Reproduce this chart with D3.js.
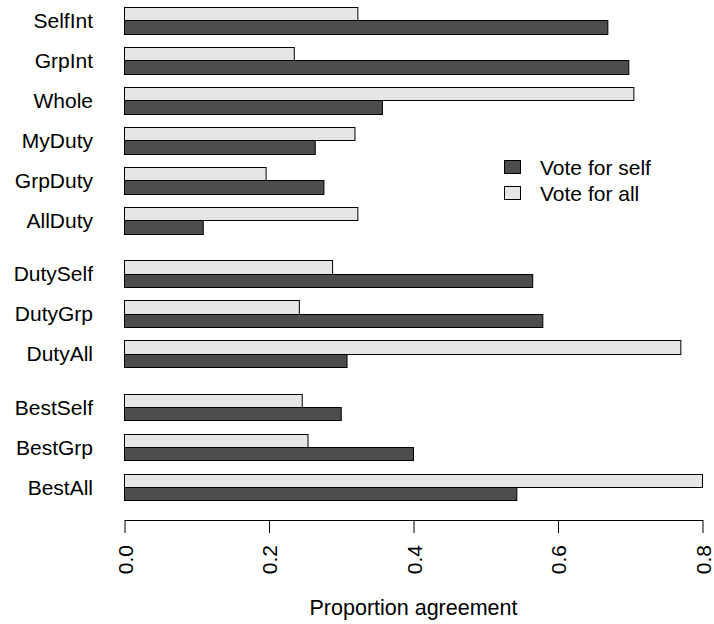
<!DOCTYPE html>
<html>
<head>
<meta charset="utf-8">
<script src="https://cdn.jsdelivr.net/npm/d3@7"></script>
<style>
  html, body { margin: 0; padding: 0; background: #ffffff; }
  svg { display: block; }
  text { font-family: "Liberation Sans", Arial, Helvetica, sans-serif; fill: #000; }
</style>
</head>
<body>
<svg id="chart" width="714" height="624"></svg>
<script>
// Statement labels, listed top to bottom
const categories = ["SelfInt", "GrpInt", "Whole", "MyDuty", "GrpDuty", "AllDuty",
                    "DutySelf", "DutyGrp", "DutyAll",
                    "BestSelf", "BestGrp", "BestAll"];
// Block each statement belongs to (blocks are separated by an extra gap)
const blocks = [0, 0, 0, 0, 0, 0, 1, 1, 1, 2, 2, 2];
// Proportion agreement, "Vote for self" condition
const voteSelf = [0.669, 0.698, 0.357, 0.264, 0.276, 0.109,
                  0.565, 0.579, 0.308,
                  0.300, 0.400, 0.543];
// Proportion agreement, "Vote for all" condition
const voteAll = [0.323, 0.235, 0.705, 0.319, 0.196, 0.323,
                 0.288, 0.242, 0.770,
                 0.246, 0.254, 0.800];
const seriesNames = ["Vote for self", "Vote for all"];
const xTicks = [0.0, 0.2, 0.4, 0.6, 0.8];
const xLabel = "Proportion agreement";

const colSelf = "#4d4d4d";
const colAll = "#e6e6e6";
const fontSize = 21;

const svg = d3.select("#chart");

// x: proportion scale
const x = d3.scaleLinear().domain([0, 0.8]).range([124.5, 702.5]);

// y: one slot per bar; each statement uses two bar slots plus one spacing slot
const slotTop = categories.map((c, i) => 3 * i + blocks[i]);
const nSlots = d3.max(slotTop) + 2;
const y = d3.scaleLinear().domain([0, nSlots]).range([7, 7 + nSlots * (40 / 3)]);

const rows = categories.map((c, i) => ({
  name: c, top: slotTop[i], self: voteSelf[i], all: voteAll[i]
}));

const bars = svg.append("g");
// "Vote for all" bar sits above, "Vote for self" below within each pair
bars.selectAll("rect.all").data(rows).join("rect")
  .attr("class", "all")
  .attr("x", x(0))
  .attr("y", d => Math.round(y(d.top)) + 0.5)
  .attr("width", d => x(d.all) - x(0))
  .attr("height", d => Math.round(y(d.top + 1)) - Math.round(y(d.top)))
  .attr("fill", colAll).attr("stroke", "#000").attr("stroke-width", 1);

bars.selectAll("rect.self").data(rows).join("rect")
  .attr("class", "self")
  .attr("x", x(0))
  .attr("y", d => Math.round(y(d.top + 1)) + 0.5)
  .attr("width", d => x(d.self) - x(0))
  .attr("height", d => Math.round(y(d.top + 2)) - Math.round(y(d.top + 1)))
  .attr("fill", colSelf).attr("stroke", "#000").attr("stroke-width", 1);

// Category labels
svg.append("g").selectAll("text").data(rows).join("text")
  .attr("x", 93)
  .attr("y", d => y(d.top + 1) + fontSize * 0.36)
  .attr("text-anchor", "end")
  .attr("font-size", fontSize)
  .text(d => d.name);

// Bottom axis
const axis = d3.axisBottom(x)
  .tickValues(xTicks)
  .tickFormat(d3.format(".1f"))
  .tickSize(13)
  .tickSizeOuter(0);

const gAxis = svg.append("g")
  .attr("transform", "translate(0,520)")
  .call(axis);
gAxis.select(".domain").attr("stroke", "#000");
gAxis.selectAll(".tick line").attr("stroke", "#000");
gAxis.selectAll(".tick text")
  .attr("font-size", fontSize)
  .attr("font-family", "'Liberation Sans', Arial, sans-serif")
  .attr("fill", "#000")
  .attr("text-anchor", "end")
  .attr("dy", null)
  .attr("y", 0)
  .attr("x", 0)
  .attr("transform", "translate(7.5,25) rotate(-90)");

// Axis title
svg.append("text")
  .attr("x", (x(0) + x(0.8)) / 2)
  .attr("y", 615)
  .attr("text-anchor", "middle")
  .attr("font-size", 21.5)
  .text(xLabel);

// Legend
const legend = svg.append("g");
const legendItems = [{ name: seriesNames[0], fill: colSelf }, { name: seriesNames[1], fill: colAll }];
legendItems.forEach((d, i) => {
  const yTop = 160 + i * 26;
  legend.append("rect")
    .attr("x", 504.5).attr("y", yTop + 0.5)
    .attr("width", 16).attr("height", 13)
    .attr("fill", d.fill).attr("stroke", "#000");
  legend.append("text")
    .attr("x", 540).attr("y", yTop + 14.5)
    .attr("font-size", fontSize)
    .text(d.name);
});
</script>
</body>
</html>
